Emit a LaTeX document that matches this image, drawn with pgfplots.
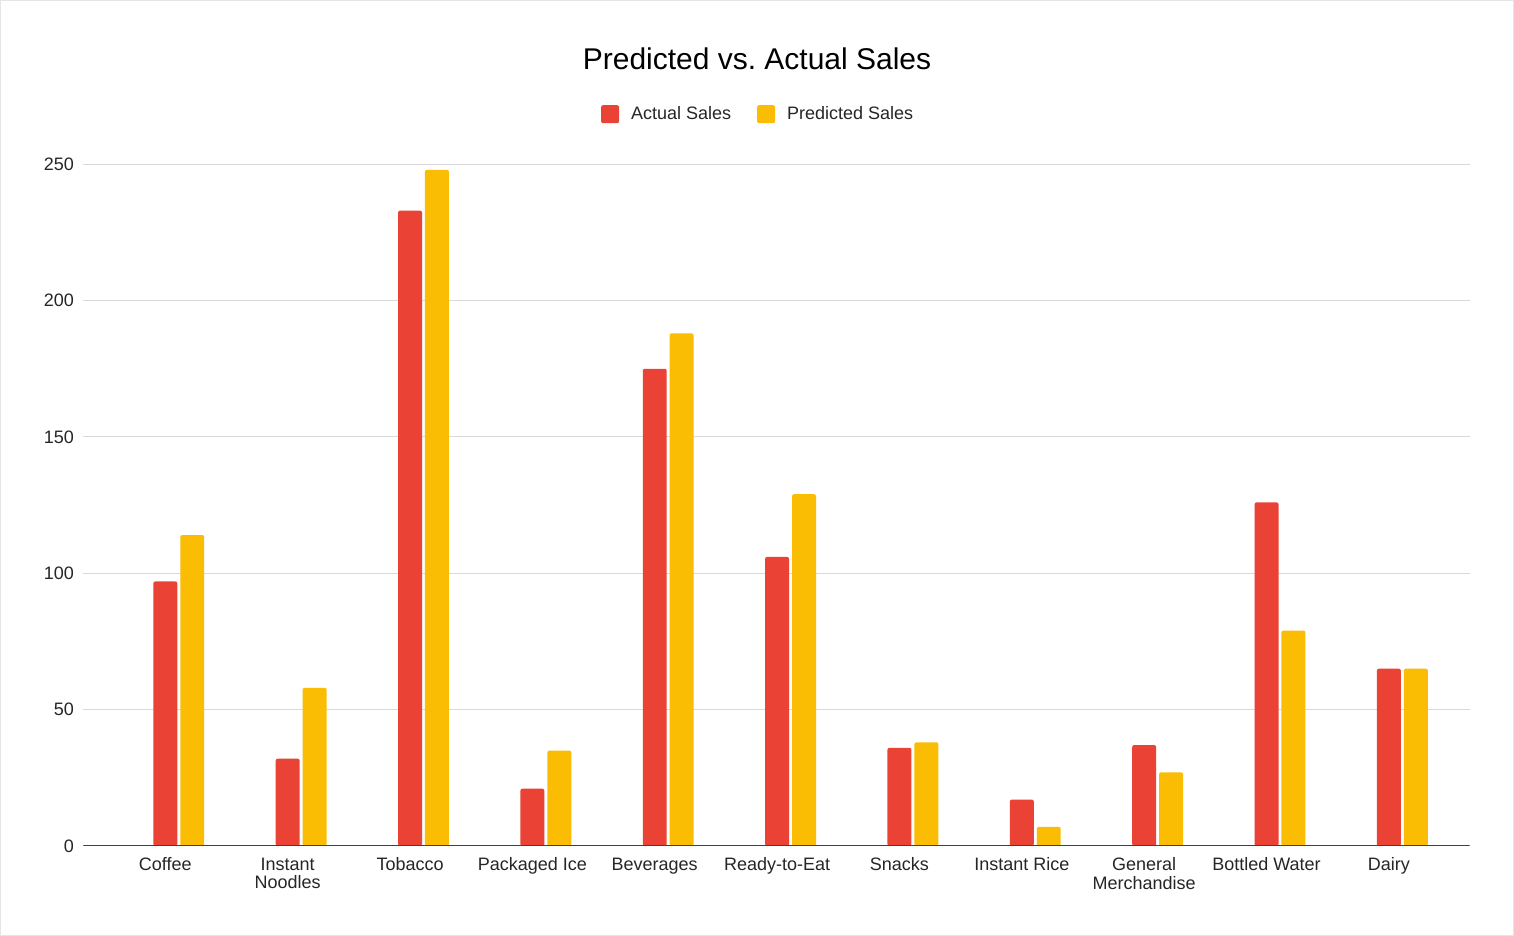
\documentclass[border=0pt]{standalone}
\usepackage{fontspec}
\setmainfont{Liberation Sans}
\usepackage{pgfplots}
\pgfplotsset{compat=1.18}
\definecolor{cRed}{HTML}{EA4335}
\definecolor{cYel}{HTML}{FBBC04}
\definecolor{cGrid}{HTML}{D9D9D9}
\frenchspacing
\newcommand\lbl[1]{\begin{tabular}{@{}c@{}}#1\end{tabular}}
\begin{document}
\begin{tikzpicture}
\path[draw=black!10, fill=white] (0,0) rectangle (757pt,467.5pt);
\node[font=\fontsize{15}{15}\selectfont, anchor=base] at (378.5pt,433pt) {Predicted vs.\ Actual Sales};
\begin{axis}[
  at={(41.5pt,44.5pt)}, anchor=south west,
  scale only axis, width=693.5pt, height=341pt,
  xmin=-0.78, xmax=10.55, ymin=0, ymax=250,
  ytick={0,50,100,150,200,250},
  xtick={0,...,10},
  xticklabels={\lbl{Coffee},{\lbl{Instant\\Noodles}},\lbl{Tobacco},\lbl{Packaged Ice},\lbl{Beverages},\lbl{Ready-to-Eat},\lbl{Snacks},\lbl{Instant Rice},{\lbl{General\\Merchandise}},\lbl{Bottled Water},\lbl{Dairy}},
  major tick length=0pt,
  axis line style={draw=none},
  ymajorgrids, grid style={cGrid, line width=0.5pt},
  /pgf/number format/assume math mode=true,
  tick label style={font=\fontsize{9}{9}\selectfont, text=black!85},
  xticklabel style={inner sep=0pt, anchor=north, yshift=-5.7pt, xshift=-6.75pt},
  yticklabel style={inner sep=0pt, anchor=east, xshift=-4.5pt},
  ybar, bar width=0.196,
  legend columns=2,
  legend style={at={(0.486,1.0735)}, anchor=center, draw=none, fill=none,
    font=\fontsize{9}{9}\selectfont, text=black!85,
    nodes={inner sep=0pt, anchor=west},
    /tikz/every odd column/.append style={column sep=6pt},
    /tikz/every even column/.append style={column sep=13pt}},
  legend image code/.code={\fill[#1, rounded corners=1pt] (0pt,-4.5pt) rectangle (9pt,4.5pt);},
]
\addplot[fill=cRed, draw=none, rounded corners=1pt, bar shift=-0.110] coordinates {
 (0,97) (1,32) (2,233) (3,21) (4,175) (5,106) (6,36) (7,17) (8,37) (9,126) (10,65)};
\addlegendentry{Actual Sales}
\addplot[fill=cYel, draw=none, rounded corners=1pt, bar shift=0.110] coordinates {
 (0,114) (1,58) (2,248) (3,35) (4,188) (5,129) (6,38) (7,7) (8,27) (9,79) (10,65)};
\addlegendentry{Predicted Sales}
\draw[black!75, line width=0.7pt] (axis cs:-0.78,0) -- (axis cs:10.55,0);
\end{axis}
\end{tikzpicture}
\end{document}
